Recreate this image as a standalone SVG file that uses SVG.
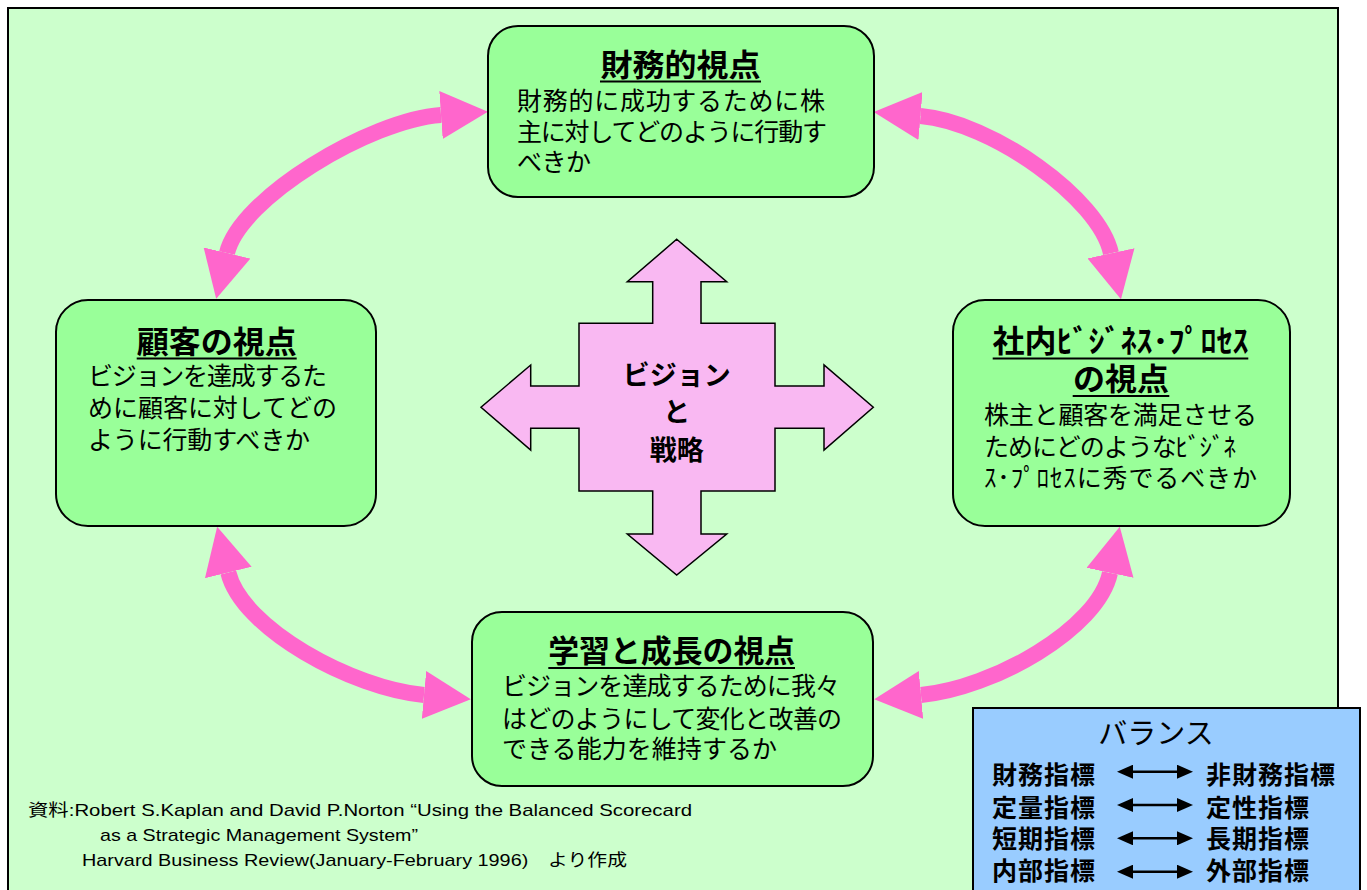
<svg xmlns="http://www.w3.org/2000/svg" width="1367" height="890" viewBox="0 0 1367 890">
<style>
.frame{fill:#CCFFCC;stroke:#000;stroke-width:2}
.node{fill:#99FF99;stroke:#000;stroke-width:2}
.title{font-family:"Noto Sans CJK JP","Noto Sans CJK SC",sans-serif;font-size:31px;font-weight:bold;fill:#000;text-anchor:middle}
.body{font-family:"Noto Sans CJK JP","Noto Sans CJK SC",sans-serif;font-size:25px;fill:#000}
.ul{stroke:#000;stroke-width:2.2}
.arc{fill:none;stroke:#FF66CC;stroke-width:16;marker-start:url(#pinkHead);marker-end:url(#pinkHead)}
.cross{fill:#F9B8F2;stroke:#000;stroke-width:1.5}
.ctext{font-family:"Noto Sans CJK JP",sans-serif;font-size:27px;font-weight:bold;fill:#000;text-anchor:middle}
.bal{fill:#99CCFF;stroke:#000;stroke-width:2}
.btitle{font-family:"Noto Sans CJK JP",sans-serif;font-size:29px;fill:#000;text-anchor:middle}
.brow{font-family:"Noto Sans CJK JP",sans-serif;font-size:25px;font-weight:bold;fill:#000;letter-spacing:1px}
.barrow{stroke:#000;stroke-width:2.5;marker-start:url(#blackHead);marker-end:url(#blackHead)}
.foot{font-family:"Liberation Sans","Noto Sans CJK JP",sans-serif;font-size:17px;fill:#000}
</style>
<defs>
<marker id="pinkHead" markerUnits="userSpaceOnUse" markerWidth="48" markerHeight="48" refX="0" refY="24" orient="auto-start-reverse" viewBox="0 0 48 48">
<path d="M0,0 L47,24 L0,48 z" fill="#FF66CC"/>
</marker>
<marker id="blackHead" markerUnits="userSpaceOnUse" markerWidth="16" markerHeight="14" refX="0" refY="7" orient="auto-start-reverse" viewBox="0 0 16 14">
<path d="M0,0 L16,7 L0,14 z" fill="#000"/>
</marker>
</defs>
<rect width="1367" height="890" fill="#fff"/>
<rect id="frame" class="frame" x="8" y="8" width="1330" height="900"/>

<g id="connectors">
<path class="arc" d="M227,253 C240,198 370,120 441,115"/>
<path class="arc" d="M920.5,116 C991,122 1099,198 1111,253.3"/>
<path class="arc" d="M228.3,572.5 C242,628.7 352.5,688.5 424,695"/>
<path class="arc" d="M1110,572.8 C1098,629.2 992.5,688.5 921,695"/>
</g>

<g id="node-vision">
<polygon class="cross" points="676.7,239.3 726.7,281.7 701,281.7 701,323.3 775,323.3 775,386 824,386 824,365 873.3,407.3 824,450 824,428.3 775,428.3 775,491 701,491 701,534 726.7,534 676.7,575 627.3,534 652.7,534 652.7,491 579,491 579,428.3 530.7,428.3 530.7,450 481,407.3 530.7,365 530.7,386 579,386 579,323.3 652.7,323.3 652.7,281.7 627.3,281.7"/>
<text class="ctext" x="676.7" y="385">ビジョン</text>
<text class="ctext" x="676.7" y="422">と</text>
<text class="ctext" x="676.7" y="460">戦略</text>
</g>

<g id="node-financial">
<rect class="node" x="488" y="26" width="386" height="171" rx="30"/>
<text class="title" x="680.5" y="76" textLength="160" lengthAdjust="spacingAndGlyphs">財務的視点</text>
<line class="ul" x1="600" y1="81.5" x2="761" y2="81.5"/>
<text class="body" x="517" y="110" textLength="308" lengthAdjust="spacing">財務的に成功するために株</text>
<text class="body" x="517" y="140.5" textLength="310" lengthAdjust="spacing">主に対してどのように行動す</text>
<text class="body" x="517" y="171" textLength="74" lengthAdjust="spacing">べきか</text>
</g>

<g id="node-customer">
<rect class="node" x="56" y="300" width="320" height="226" rx="32"/>
<text class="title" x="216.7" y="353" textLength="160" lengthAdjust="spacingAndGlyphs">顧客の視点</text>
<line class="ul" x1="136.7" y1="358.5" x2="296.7" y2="358.5"/>
<text class="body" x="88" y="385" textLength="239" lengthAdjust="spacing">ビジョンを達成するた</text>
<text class="body" x="88" y="416.5" textLength="249" lengthAdjust="spacing">めに顧客に対してどの</text>
<text class="body" x="88" y="449" textLength="222" lengthAdjust="spacing">ように行動すべきか</text>
</g>

<g id="node-internal">
<rect class="node" x="953" y="300" width="337" height="226" rx="32"/>
<text class="title" x="1120.5" y="352" textLength="256" lengthAdjust="spacingAndGlyphs">社内ﾋﾞｼﾞﾈｽ･ﾌﾟﾛｾｽ</text>
<line class="ul" x1="992.7" y1="358.5" x2="1248.3" y2="358.5"/>
<text class="title" x="1121" y="390" textLength="96" lengthAdjust="spacingAndGlyphs">の視点</text>
<line class="ul" x1="1072.7" y1="396" x2="1169.3" y2="396"/>
<text class="body" x="984" y="424" textLength="273" lengthAdjust="spacing">株主と顧客を満足させる</text>
<text class="body" x="984" y="455.5" textLength="252" lengthAdjust="spacing">ためにどのようなﾋﾞｼﾞﾈ</text>
<text class="body" x="984" y="486.5" textLength="273" lengthAdjust="spacing">ｽ･ﾌﾟﾛｾｽに秀でるべきか</text>
</g>

<g id="node-learning">
<rect class="node" x="472" y="612" width="401" height="174" rx="30"/>
<text class="title" x="671.7" y="662" textLength="247" lengthAdjust="spacingAndGlyphs">学習と成長の視点</text>
<line class="ul" x1="548.3" y1="668" x2="795" y2="668"/>
<text class="body" x="502" y="695" textLength="338" lengthAdjust="spacing">ビジョンを達成するために我々</text>
<text class="body" x="502" y="727.5" textLength="340" lengthAdjust="spacing">はどのようにして変化と改善の</text>
<text class="body" x="502" y="758" textLength="275" lengthAdjust="spacing">できる能力を維持するか</text>
</g>

<g id="footnote">
<text class="foot" x="28" y="816" textLength="664" lengthAdjust="spacingAndGlyphs">資料:Robert S.Kaplan and David P.Norton “Using the Balanced Scorecard</text>
<text class="foot" x="100" y="841" textLength="318" lengthAdjust="spacingAndGlyphs">as a Strategic Management System”</text>
<text class="foot" x="82" y="866" textLength="545" lengthAdjust="spacingAndGlyphs">Harvard Business Review(January-February 1996)　より作成</text>
</g>

<g id="balance">
<rect class="bal" x="973" y="708" width="387" height="200"/>
<text class="btitle" x="1156" y="744">バランス</text>
<text class="brow" x="992" y="784">財務指標</text>
<text class="brow" x="992" y="816.5">定量指標</text>
<text class="brow" x="992" y="848">短期指標</text>
<text class="brow" x="992" y="880">内部指標</text>
<text class="brow" x="1206" y="784">非財務指標</text>
<text class="brow" x="1206" y="816.5">定性指標</text>
<text class="brow" x="1206" y="848">長期指標</text>
<text class="brow" x="1206" y="880">外部指標</text>
<line class="barrow" x1="1133" y1="771.7" x2="1177" y2="771.7"/>
<line class="barrow" x1="1133" y1="805" x2="1177" y2="805"/>
<line class="barrow" x1="1133" y1="838.3" x2="1177" y2="838.3"/>
<line class="barrow" x1="1133" y1="871.7" x2="1177" y2="871.7"/>
</g>
</svg>
